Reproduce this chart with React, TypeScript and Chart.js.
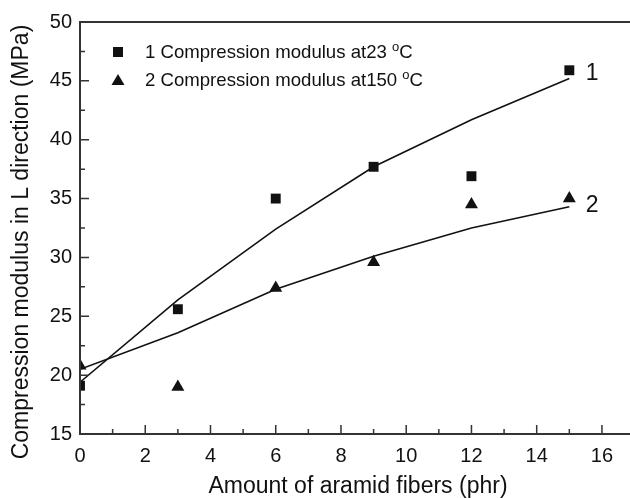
import React, { useEffect, useRef } from "react";
import { Chart, registerables } from "chart.js";

Chart.register(...registerables);

const xValues = [0, 3, 6, 9, 12, 15];
const modulus23 = [19.1, 25.6, 35.0, 37.7, 36.9, 45.9];
const modulus150 = [20.8, 19.0, 27.4, 29.6, 34.5, 35.0];
const fit23 = [19.4, 26.4, 32.4, 37.7, 41.7, 45.2];
const fit150 = [20.5, 23.6, 27.3, 30.1, 32.5, 34.3];
const xTicks = [0, 2, 4, 6, 8, 10, 12, 14, 16];
const yTicks = [15, 20, 25, 30, 35, 40, 45, 50];
const legendLabels = ["1 Compression modulus at23 ", "2 Compression modulus at150 "];
const curveLabels = ["1", "2"];
const xTitle = "Amount of aramid fibers (phr)";
const yTitle = "Compression modulus in L direction (MPa)";

const FONT = "'Liberation Sans', Arial, sans-serif";
const INK = "#111";

const toPts = (ys: number[]) => xValues.map((x, i) => ({ x, y: ys[i] }));

const decorPlugin = {
  id: "decor",
  afterDatasetsDraw(chart: any) {
    const { ctx, chartArea, scales } = chart;
    const xs = scales.x;
    const ys = scales.y;
    const { left, right, top, bottom } = chartArea;
    ctx.save();
    ctx.strokeStyle = "#333";
    ctx.lineWidth = 2;
    ctx.beginPath();
    ctx.moveTo(left, top);
    ctx.lineTo(right, top);
    ctx.moveTo(left, top - 1);
    ctx.lineTo(left, bottom + 1);
    ctx.moveTo(left - 1, bottom);
    ctx.lineTo(right, bottom);
    ctx.stroke();
    ctx.lineWidth = 1.5;
    ctx.beginPath();
    for (let v = 1; v <= 16; v++) {
      const px = xs.getPixelForValue(v);
      const len = v % 2 === 0 ? 9 : 5;
      ctx.moveTo(px, bottom);
      ctx.lineTo(px, bottom - len);
    }
    for (let v = 17.5; v < 50; v += 2.5) {
      const py = ys.getPixelForValue(v);
      const len = v % 5 === 0 ? 9 : 5;
      ctx.moveTo(left, py);
      ctx.lineTo(left + len, py);
    }
    ctx.stroke();

    // legend
    ctx.fillStyle = INK;
    const lx = 118;
    const rows = [52, 80];
    ctx.fillRect(lx - 5, rows[0] - 5, 10, 10);
    ctx.beginPath();
    ctx.moveTo(lx, rows[1] - 6);
    ctx.lineTo(lx + 6.5, rows[1] + 5);
    ctx.lineTo(lx - 6.5, rows[1] + 5);
    ctx.closePath();
    ctx.fill();
    ctx.textBaseline = "middle";
    ctx.textAlign = "left";
    legendLabels.forEach((t, i) => {
      const y = rows[i] + 1;
      ctx.font = `18.6px ${FONT}`;
      ctx.fillText(t, 145, y);
      let w = ctx.measureText(t).width;
      ctx.font = `13px ${FONT}`;
      ctx.fillText("o", 145 + w, y - 6);
      w += ctx.measureText("o").width;
      ctx.font = `18.6px ${FONT}`;
      ctx.fillText("C", 145 + w, y);
    });

    // curve labels
    ctx.font = `23px ${FONT}`;
    ctx.fillText(curveLabels[0], xs.getPixelForValue(15.5), ys.getPixelForValue(45.8) + 2);
    ctx.fillText(curveLabels[1], xs.getPixelForValue(15.5), ys.getPixelForValue(34.6) + 2);

    // titles
    ctx.textAlign = "center";
    ctx.font = `23px ${FONT}`;
    ctx.fillText(xTitle, 358, 487);
    ctx.translate(22, 242);
    ctx.rotate(-Math.PI / 2);
    ctx.fillText(yTitle, 0, 0);
    ctx.restore();
  },
};

export default function App() {
  const ref = useRef<HTMLCanvasElement | null>(null);
  useEffect(() => {
    document.body.style.margin = "0";
    const c = ref.current;
    if (!c) return;
    const chart = new Chart(c, {
      type: "scatter",
      data: {
        datasets: [
          {
            label: "fit1",
            data: toPts(fit23),
            showLine: true,
            borderColor: INK,
            borderWidth: 1.6,
            pointRadius: 0,
            clip: 0,
          },
          {
            label: "fit2",
            data: toPts(fit150),
            showLine: true,
            borderColor: INK,
            borderWidth: 1.6,
            pointRadius: 0,
            clip: 0,
          },
          {
            label: "1",
            data: toPts(modulus23),
            pointStyle: "rect",
            pointRadius: 7,
            backgroundColor: INK,
            borderColor: INK,
            borderWidth: 0,
            clip: 0,
          },
          {
            label: "2",
            data: toPts(modulus150),
            pointStyle: "triangle",
            pointRadius: 7.5,
            backgroundColor: INK,
            borderColor: INK,
            borderWidth: 0,
            clip: 0,
          },
        ],
      } as any,
      options: {
        animation: false,
        responsive: true,
        maintainAspectRatio: false,
        layout: { autoPadding: false, padding: { top: 22, left: 0, right: 0, bottom: 0 } },
        plugins: { legend: { display: false }, tooltip: { enabled: false } },
        scales: {
          x: {
            type: "linear",
            min: 0,
            max: 16.86,
            grid: { display: false, drawTicks: false, tickLength: 0 },
            border: { display: false },
            afterBuildTicks: (s: any) => {
              s.ticks = xTicks.map((v) => ({ value: v }));
            },
            afterFit: (s: any) => {
              s.height = 64;
              s.paddingRight = 0;
              s.paddingLeft = 0;
            },
            ticks: {
              color: INK,
              font: { family: FONT, size: 20 },
              padding: 10,
              maxRotation: 0,
            },
          },
          y: {
            type: "linear",
            min: 15,
            max: 50,
            grid: { display: false, drawTicks: false, tickLength: 0 },
            border: { display: false },
            afterBuildTicks: (s: any) => {
              s.ticks = yTicks.map((v) => ({ value: v }));
            },
            afterFit: (s: any) => {
              s.width = 80;
              s.paddingTop = 0;
              s.paddingBottom = 0;
            },
            ticks: {
              color: INK,
              font: { family: FONT, size: 20 },
              padding: 8,
            },
          },
        },
      } as any,
      plugins: [decorPlugin],
    });
    return () => chart.destroy();
  }, []);
  return (
    <div style={{ width: 630, height: 498, position: "relative" }}>
      <canvas ref={ref} />
    </div>
  );
}
